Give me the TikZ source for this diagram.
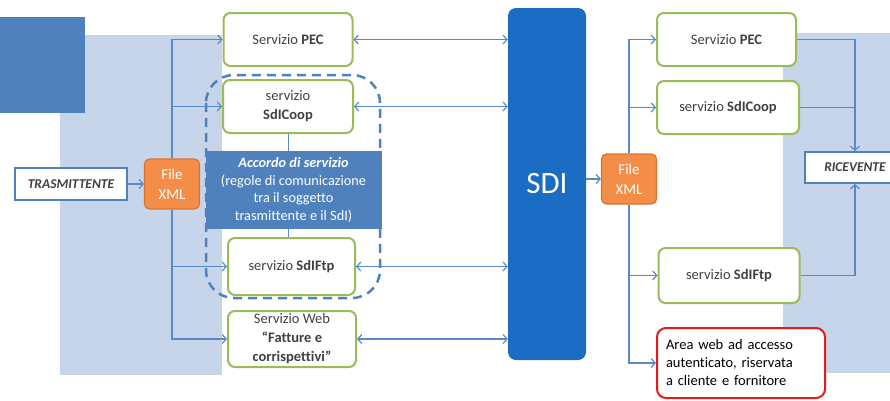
\documentclass[tikz,border=0pt]{standalone}
\usepackage{fontspec}
\setmainfont[Ligatures=NoCommon]{Carlito}
\usetikzlibrary{arrows.meta}
\definecolor{bluedark}{HTML}{4F81BD}
\definecolor{bluelight}{HTML}{C6D5EA}
\definecolor{lineblue}{HTML}{5A89C8}
\definecolor{sdiblue}{HTML}{1A6DC2}
\definecolor{gborder}{HTML}{9BBB59}
\definecolor{oranfill}{HTML}{F38D48}
\definecolor{oranline}{HTML}{D9742E}
\definecolor{redline}{HTML}{E31B1B}
\definecolor{txt}{HTML}{404040}
\tikzset{
  gbox/.style={draw=gborder, line width=2pt, rounded corners=7pt, fill=white, text=txt, align=center, font=\fontsize{14.5}{19}\selectfont},
  fxml/.style={draw=oranline, line width=1.2pt, fill=oranfill, rounded corners=5pt, text=white, align=center, font=\fontsize{15}{20}\selectfont, minimum width=55, minimum height=50, inner sep=0pt},
  actor/.style={draw=bluedark, line width=2pt, fill=white, text=txt, font=\fontsize{13.5}{15}\selectfont\bfseries\itshape},
  conn/.style={draw=lineblue, line width=1.2pt},
  arr/.style={conn, -{Straight Barb[length=4pt,width=9pt]}},
  darr/.style={conn, {Straight Barb[length=4pt,width=9pt]}-{Straight Barb[length=4pt,width=9pt]}},
}
\begin{document}
\begin{tikzpicture}[x=1pt,y=-1pt]
\useasboundingbox (0,0) rectangle (890,400);
% backgrounds
\fill[bluelight] (60,35) rectangle (222,375);
\fill[bluelight] (783,33) rectangle (890,373);
\fill[bluedark] (0,17) rectangle (85,113);
% left side
\node[actor, minimum width=112, minimum height=32, inner sep=1pt] (tras) at (71,184) {TRASMITTENTE};
\node[fxml] (fxl) at (172,184) {File\\XML};
\node[gbox, minimum width=129, minimum height=53] (pecL) at (288,39.5) {Servizio \textbf{PEC}};
\node[gbox, minimum width=130, minimum height=53] (coopL) at (288,106.5) {servizio\\\textbf{SdICoop}};
\node[fill=bluedark, text=white, align=center, minimum width=176, minimum height=78, inner sep=0pt, font=\fontsize{14.3}{17.5}\selectfont] (acc) at (293.5,190) {\textbf{\textit{Accordo di servizio}}\\(regole di comunicazione\\tra il soggetto\\trasmittente e il SdI)};
\node[gbox, minimum width=127, minimum height=57] (ftpL) at (291.5,266.5) {servizio \textbf{SdIFtp}};
\node[gbox, minimum width=128, minimum height=56, inner sep=1pt] (webL) at (292,339) {Servizio Web\\\textbf{“Fatture e}\\\textbf{corrispettivi”}};
\draw[bluedark, line width=2.5pt, dash pattern=on 9pt off 6pt, rounded corners=28pt] (206,75) rectangle (380,298);
\draw[conn, line width=1pt] (coopL.south) -- (coopL.south |- acc.north);
\draw[conn, line width=1pt] (ftpL.north -| coopL.south) -- (coopL.south |- acc.south);
% SDI
\node[fill=sdiblue, rounded corners=8pt, minimum width=78, minimum height=352, text=white, font=\fontsize{31}{36}\selectfont] (sdi) at (547,184) {SDI};
% right side
\node[fxml] (fxr) at (629,179) {File\\XML};
\node[gbox, minimum width=139, minimum height=53] (pecR) at (726.5,39.5) {Servizio \textbf{PEC}};
\node[gbox, minimum width=142, minimum height=53] (coopR) at (728,107.5) {servizio \textbf{SdICoop}};
\node[gbox, minimum width=141, minimum height=55] (ftpR) at (729,275.5) {servizio \textbf{SdIFtp}};
\node[draw=redline, line width=2pt, rounded corners=9pt, fill=white, text=black, align=left, minimum width=168, minimum height=70, text width=150, font=\fontsize{14.5}{18}\selectfont] (webR) at (741,363) {Area web ad accesso\\autenticato, riservata\\a cliente e fornitore};
\node[actor, minimum width=100, minimum height=31] (ric) at (855,167.5) {RICEVENTE};
% connectors left
\draw[arr] (tras.east) -- (fxl.west);
\draw[arr] (fxl.north) |- (pecL.west);
\draw[arr] (fxl.north) |- (coopL.west);
\draw[arr] (fxl.south) |- (ftpL.west);
\draw[arr] (fxl.south) |- (webL.west);
\draw[darr] (pecL.east) -- (sdi.west |- pecL.east);
\draw[darr] (coopL.east) -- (sdi.west |- coopL.east);
\draw[darr] (ftpL.east) -- (sdi.west |- ftpL.east);
\draw[darr] (webL.east) -- (sdi.west |- webL.east);
% connectors right
\draw[arr] (sdi.east |- fxr.west) -- (fxr.west);
\draw[arr] (fxr.north) |- (pecR.west);
\draw[arr] (fxr.north) |- (coopR.west);
\draw[arr] (fxr.south) |- (ftpR.west);
\draw[arr] (fxr.south) |- (webR.west);
\draw[arr] (pecR.east) -| (ric.north);
\draw[conn] (coopR.east) -- (ric.north |- coopR.east);
\draw[arr] (ftpR.east) -| (ric.south);
\end{tikzpicture}
\end{document}
